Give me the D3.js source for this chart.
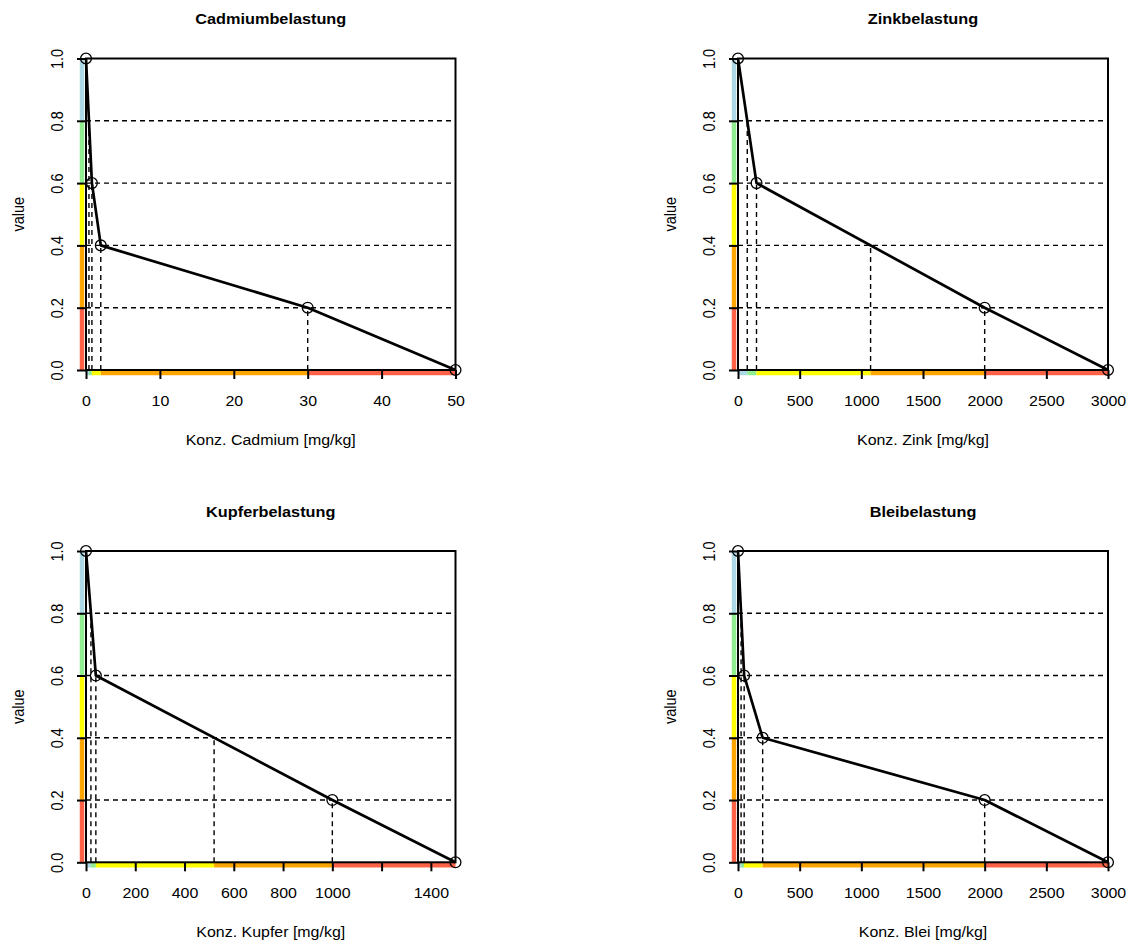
<!DOCTYPE html>
<html><head><meta charset="utf-8">
<script src="https://cdn.jsdelivr.net/npm/d3@7"></script>
<style>
html,body{margin:0;padding:0;background:#fff;}
text{font-family:"Liberation Sans",Arial,sans-serif;fill:#000;}
</style></head>
<body>
<svg id="chart" width="1133" height="942"></svg>
<script>
// ---- data ----
const classLevels = [1.0, 0.8, 0.6, 0.4, 0.2, 0.0];
const yTicks = [0, 0.2, 0.4, 0.6, 0.8, 1.0];
const yTickLabels = ["0.0", "0.2", "0.4", "0.6", "0.8", "1.0"];

const cadmiumX = [0, 0.8, 2, 30, 50];
const cadmiumY = [1, 0.6, 0.4, 0.2, 0];
const cadmiumCuts = [0.4, 0.8, 2, 30];          // x where value = 0.8, 0.6, 0.4, 0.2
const cadmiumTicks = [0, 10, 20, 30, 40, 50];
const cadmiumTickLabels = ["0", "10", "20", "30", "40", "50"];

const zinkX = [0, 150, 2000, 3000];
const zinkY = [1, 0.6, 0.2, 0];
const zinkCuts = [75, 150, 1075, 2000];
const zinkTicks = [0, 500, 1000, 1500, 2000, 2500, 3000];
const zinkTickLabels = ["0", "500", "1000", "1500", "2000", "2500", "3000"];

const kupferX = [0, 40, 1000, 1500];
const kupferY = [1, 0.6, 0.2, 0];
const kupferCuts = [20, 40, 520, 1000];
const kupferTicks = [0, 200, 400, 600, 800, 1000, 1200, 1400];
const kupferTickLabels = ["0", "200", "400", "600", "800", "1000", "", "1400"];

const bleiX = [0, 50, 200, 2000, 3000];
const bleiY = [1, 0.6, 0.4, 0.2, 0];
const bleiCuts = [25, 50, 200, 2000];
const bleiTicks = [0, 500, 1000, 1500, 2000, 2500, 3000];
const bleiTickLabels = ["0", "500", "1000", "1500", "2000", "2500", "3000"];

const titles = ["Cadmiumbelastung", "Zinkbelastung", "Kupferbelastung", "Bleibelastung"];
const xLabels = ["Konz. Cadmium [mg/kg]", "Konz. Zink [mg/kg]", "Konz. Kupfer [mg/kg]", "Konz. Blei [mg/kg]"];
const yLabel = "value";

// ---- styles / layout ----
const classColors = ["#ADD8E6", "#90EE90", "#FFFF00", "#FFA500", "#FF6347"];
const SX = 1.1;
const panels = [
  {xs: cadmiumX, ys: cadmiumY, cuts: cadmiumCuts, ticks: cadmiumTicks, labels: cadmiumTickLabels, left: 86, right: 455.5, top: 58.5, bottom: 370},
  {xs: zinkX, ys: zinkY, cuts: zinkCuts, ticks: zinkTicks, labels: zinkTickLabels, left: 738, right: 1108, top: 58.5, bottom: 370},
  {xs: kupferX, ys: kupferY, cuts: kupferCuts, ticks: kupferTicks, labels: kupferTickLabels, left: 86, right: 455.5, top: 551, bottom: 862.3},
  {xs: bleiX, ys: bleiY, cuts: bleiCuts, ticks: bleiTicks, labels: bleiTickLabels, left: 738, right: 1108, top: 551, bottom: 862.3}
];

const svg = d3.select("#chart");

panels.forEach((p, pi) => {
  const xmax = p.xs[p.xs.length - 1];
  const x = d3.scaleLinear().domain([0, xmax]).range([p.left, p.right]);
  const y = d3.scaleLinear().domain([0, 1]).range([p.bottom, p.top]);
  const g = svg.append("g");

  // colored class bars: left (value axis)
  for (let i = 0; i < 5; i++) {
    g.append("line")
      .attr("x1", x(0) - 4).attr("x2", x(0) - 4)
      .attr("y1", y(classLevels[i])).attr("y2", y(classLevels[i + 1]))
      .attr("stroke", classColors[i]).attr("stroke-width", 4.5);
  }
  // bottom (concentration axis)
  const xb = [0, ...p.cuts, xmax];
  for (let i = 0; i < 5; i++) {
    g.append("line")
      .attr("x1", x(xb[i])).attr("x2", x(xb[i + 1]))
      .attr("y1", y(0) + 3).attr("y2", y(0) + 3)
      .attr("stroke", classColors[i]).attr("stroke-width", 4.5);
  }

  // dashed helper lines
  const levels = classLevels.slice(1, 5);
  levels.forEach((lv, i) => {
    g.append("line")
      .attr("x1", x(0)).attr("x2", x(xmax))
      .attr("y1", y(lv)).attr("y2", y(lv))
      .attr("stroke", "#000").attr("stroke-width", 1.4).attr("stroke-dasharray", "5,4");
    g.append("line")
      .attr("x1", x(p.cuts[i])).attr("x2", x(p.cuts[i]))
      .attr("y1", y(0)).attr("y2", y(lv))
      .attr("stroke", "#000").attr("stroke-width", 1.4).attr("stroke-dasharray", "5,4");
  });

  // frame
  g.append("rect")
    .attr("x", x(0)).attr("y", y(1))
    .attr("width", x(xmax) - x(0)).attr("height", y(0) - y(1))
    .attr("fill", "none").attr("stroke", "#000").attr("stroke-width", 2);

  // x axis
  const xa = g.append("g").attr("transform", `translate(0,${y(0)})`)
    .call(d3.axisBottom(x).tickValues(p.ticks).tickFormat((d, i) => p.labels[i])
      .tickSize(9).tickSizeOuter(0));
  xa.select(".domain").remove();
  xa.selectAll(".tick line").attr("stroke", "#000").attr("stroke-width", 2);
  xa.selectAll(".tick text")
    .attr("y", 36).attr("dy", null).attr("x", 0)
    .attr("transform", `scale(${SX},1)`)
    .style("font-size", "14.5px").style("font-family", '"Liberation Sans",Arial,sans-serif');

  // y axis
  const ya = g.append("g").attr("transform", `translate(${x(0)},0)`)
    .call(d3.axisLeft(y).tickValues(yTicks).tickFormat((d, i) => yTickLabels[i])
      .tickSize(9).tickSizeOuter(0));
  ya.select(".domain").remove();
  ya.selectAll(".tick line").attr("stroke", "#000").attr("stroke-width", 2);
  ya.selectAll(".tick text")
    .attr("x", 0).attr("y", 0).attr("dy", null)
    .attr("text-anchor", "middle")
    .attr("transform", `translate(-23.5,0) scale(${SX},1) rotate(-90)`)
    .style("font-size", "14.5px").style("font-family", '"Liberation Sans",Arial,sans-serif');

  // curve
  const pts = p.xs.map((v, i) => [v, p.ys[i]]);
  g.append("path")
    .attr("d", d3.line().x(d => x(d[0])).y(d => y(d[1]))(pts))
    .attr("fill", "none").attr("stroke", "#000").attr("stroke-width", 2.7)
    .attr("stroke-linejoin", "round");
  g.selectAll("circle.pt").data(pts).enter().append("circle")
    .attr("cx", d => x(d[0])).attr("cy", d => y(d[1])).attr("r", 5.4)
    .attr("fill", "none").attr("stroke", "#000").attr("stroke-width", 1.3);

  // texts
  const cx = (p.left + p.right) / 2;
  g.append("text")
    .attr("transform", `translate(${cx},${p.top - 34.5}) scale(${SX},1)`)
    .attr("text-anchor", "middle").style("font-size", "14.8px").style("font-weight", "bold")
    .text(titles[pi]);
  g.append("text")
    .attr("transform", `translate(${cx},${p.bottom + 75}) scale(${SX},1)`)
    .attr("text-anchor", "middle").style("font-size", "14.5px")
    .text(xLabels[pi]);
  g.append("text")
    .attr("transform", `translate(${p.left - 62},${(p.top + p.bottom) / 2}) scale(${SX},1) rotate(-90)`)
    .attr("text-anchor", "middle").style("font-size", "14.5px")
    .text(yLabel);
});
</script>
</body></html>
